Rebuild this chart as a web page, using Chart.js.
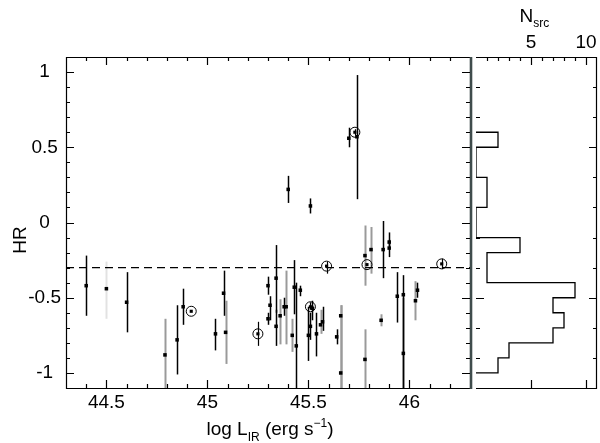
<!DOCTYPE html>
<html><head><meta charset="utf-8">
<script src="https://cdn.jsdelivr.net/npm/chart.js@4.4.1/dist/chart.umd.min.js"></script>
<style>
html,body{margin:0;padding:0;background:#fff;}
#wrap{position:relative;width:600px;height:443px;overflow:hidden;background:#fff;}
#main{position:absolute;left:0;top:0;}
#hist{position:absolute;left:470px;top:0;}
</style></head><body>
<div id="wrap">
<canvas id="main" width="476" height="443"></canvas>
<canvas id="hist" width="130" height="443"></canvas>
</div>
<script>
// ---------------- DATA ----------------
// Sources with black error bars
const blackLogL = [44.40,44.60,44.85,44.88,45.04,45.08,45.30,45.31,45.30,45.34,45.34,45.38,45.43,45.44,45.46,45.40,45.51,45.50,45.51,45.52,45.54,45.57,45.64,45.70,45.74,45.87,45.90,45.90,45.94,45.97,45.97,46.04];
const blackHR   = [-0.42,-0.53,-0.78,-0.56,-0.74,-0.47,-0.42,-0.55,-0.64,-0.37,-0.69,-0.56,-0.43,-0.82,-0.45,0.22,0.11,-0.75,-0.69,-0.57,-0.74,-0.66,-0.76,0.56,0.57,-0.18,-0.17,-0.13,-0.49,-0.48,-0.87,-0.45];
const blackLo   = [-0.62,-0.73,-1.01,-0.68,-0.85,-0.62,-0.48,-0.65,-0.68,-0.60,-0.82,-0.62,-0.61,-1.20,-0.49,0.13,0.06,-0.92,-0.78,-0.65,-0.89,-0.72,-0.81,0.50,0.155,-0.37,-0.23,-0.16,-0.665,-1.20,-1.20,-0.50];
const blackHi   = [-0.22,-0.33,-0.55,-0.44,-0.64,-0.32,-0.36,-0.49,-0.60,-0.15,-0.58,-0.50,-0.25,-0.40,-0.42,0.31,0.16,-0.56,-0.60,-0.52,-0.60,-0.56,-0.71,0.63,0.98,0.01,-0.115,-0.066,-0.33,-0.35,-0.50,-0.40];
// Sources with grey error bars
const greyLogL = [44.50,44.79,45.09,45.36,45.39,45.42,45.56,45.66,45.66,45.78,45.78,45.81,45.86,46.03];
const greyHR   = [-0.44,-0.88,-0.73,-0.62,-0.56,-0.75,-0.68,-0.62,-1.00,-0.22,-0.91,-0.18,-0.65,-0.52];
const greyLo   = [-0.64,-1.20,-0.94,-0.81,-0.81,-0.86,-0.74,-1.20,-1.20,-0.42,-1.20,-0.34,-0.69,-0.65];
const greyHi   = [-0.26,-0.64,-0.52,-0.51,-0.32,-0.64,-0.58,-0.55,-0.55,-0.02,-0.71,-0.03,-0.61,-0.39];
const greyFaint = [true,false,false,false,false,false,false,false,false,false,false,false,false,false];
// Circled sources
const circLogL = [44.92,45.25,45.51,45.59,45.73,45.79,46.16];
const circHR   = [-0.59,-0.74,-0.56,-0.29,0.60,-0.28,-0.275];
const circLo   = [null,-0.82,-0.58,-0.34,0.58,null,-0.31];
const circHi   = [null,-0.66,-0.53,-0.26,0.62,null,-0.24];
// Dividing HR value
const hrCut = -0.3;
// Histogram of HR (bin edges and counts)
const histEdges  = [-1.0,-0.9,-0.8,-0.7,-0.6,-0.5,-0.4,-0.3,-0.2,-0.1,0.0,0.1,0.2,0.3,0.4,0.5,0.6];
const histCounts = [2,3,7,8,7,9,1,1,4,0,0,1,1,0,0,2];
// Axis ranges / ticks
const xRange = [44.3, 46.3];
const yRange = [-1.1, 1.1];
const nRange = [0, 11];
const nLabels = [5, 10];

// ---------------- HELPERS ----------------
const FONT = "'Liberation Sans', Arial, Helvetica, sans-serif";
Chart.defaults.font.family = FONT;
Chart.defaults.font.size = 19;
Chart.defaults.color = '#000';
function isHalf(v){ return Math.abs(v*2 - Math.round(v*2)) < 1e-6; }
function fmt(v){ const r = Math.round(v*10)/10; return (r === 0 ? 0 : r).toString(); }
function pts(xs, ys){ return xs.map((x,i)=>({x:x, y:ys[i]})); }

function drawRich(ctx, parts, cx, baseline){
  let w = 0;
  parts.forEach(p=>{ ctx.font = p.size + 'px ' + FONT; p.w = ctx.measureText(p.t).width; w += p.w; });
  let x = cx - w/2;
  ctx.textAlign = 'left'; ctx.textBaseline = 'alphabetic'; ctx.fillStyle = '#000';
  parts.forEach(p=>{ ctx.font = p.size + 'px ' + FONT; ctx.fillText(p.t, x, baseline + p.dy); x += p.w; });
}

const errorBars = {
  id: 'errorBars',
  beforeDatasetsDraw(chart){
    const {ctx, chartArea:a, scales:{x, y}} = chart;
    ctx.save();
    ctx.beginPath(); ctx.rect(a.left, a.top, a.right - a.left, a.bottom - a.top); ctx.clip();
    chart.data.datasets.forEach(ds=>{
      if (!ds.errLo) return;
      ds.data.forEach((p, i)=>{
        if (ds.errLo[i] == null) return;
        const px = Math.round(x.getPixelForValue(p.x)) + 0.5;
        ctx.strokeStyle = (ds.faint && ds.faint[i]) ? '#e2e2e2' : ds.barColor;
        ctx.lineWidth = ds.barWidth;
        ctx.beginPath();
        ctx.moveTo(px, y.getPixelForValue(ds.errLo[i]));
        ctx.lineTo(px, y.getPixelForValue(ds.errHi[i]));
        ctx.stroke();
      });
    });
    ctx.restore();
  }
};

const mainFrame = {
  id: 'mainFrame',
  afterDraw(chart){
    const {ctx, chartArea:a, scales:{x, y}} = chart;
    ctx.save();
    ctx.strokeStyle = '#000'; ctx.lineWidth = 1.2;
    // frame
    ctx.beginPath();
    ctx.moveTo(a.right, a.top + 0.5); ctx.lineTo(a.left + 0.5, a.top + 0.5);
    ctx.lineTo(a.left + 0.5, a.bottom + 0.5); ctx.lineTo(a.right, a.bottom + 0.5);
    ctx.stroke();
    ctx.strokeStyle = '#3f4c4c'; ctx.lineWidth = 2.6;
    ctx.beginPath(); ctx.moveTo(a.right + 1, a.top); ctx.lineTo(a.right + 1, a.bottom + 1); ctx.stroke();
    ctx.strokeStyle = '#000'; ctx.lineWidth = 1.2;
    ctx.beginPath();
    x.ticks.forEach(t=>{
      const px = Math.round(x.getPixelForValue(t.value)) + 0.5;
      if (px <= a.left + 1 || px >= a.right - 1) return;
      const len = isHalf(t.value) ? 8 : 4;
      ctx.moveTo(px, a.bottom); ctx.lineTo(px, a.bottom - len);
      ctx.moveTo(px, a.top); ctx.lineTo(px, a.top + len);
    });
    y.ticks.forEach(t=>{
      const py = Math.round(y.getPixelForValue(t.value)) + 0.5;
      if (py <= a.top + 1 || py >= a.bottom - 1) return;
      const len = isHalf(t.value) ? 8 : 4;
      ctx.moveTo(a.left, py); ctx.lineTo(a.left + len, py);
      ctx.moveTo(a.right, py); ctx.lineTo(a.right - len, py);
    });
    ctx.stroke();
    // axis titles
    ctx.save();
    ctx.translate(21, 240); ctx.rotate(-Math.PI/2);
    ctx.font = '19px ' + FONT; ctx.textAlign = 'center'; ctx.textBaseline = 'middle'; ctx.fillStyle = '#000';
    ctx.fillText('HR', 0, 0);
    ctx.restore();
    drawRich(ctx, [
      {t:'log L', size:19, dy:0}, {t:'IR', size:12, dy:6},
      {t:' (erg s', size:19, dy:0}, {t:'\u22121', size:12, dy:-8}, {t:')', size:19, dy:0}
    ], 270, 435);
    ctx.restore();
  }
};

const histFrame = {
  id: 'histFrame',
  afterDraw(chart){
    const {ctx, chartArea:a, scales:{x, y}} = chart;
    ctx.save();
    ctx.strokeStyle = '#000'; ctx.lineWidth = 1.2;
    ctx.beginPath();
    ctx.moveTo(a.left, a.top + 0.5); ctx.lineTo(a.right - 0.5, a.top + 0.5);
    ctx.lineTo(a.right - 0.5, a.bottom + 0.5); ctx.lineTo(a.left, a.bottom + 0.5);
    ctx.stroke();
    ctx.beginPath();
    for (let n = nRange[0] + 1; n < nRange[1]; n++){
      const px = Math.round(x.getPixelForValue(n)) + 0.5;
      const major = nLabels.includes(n);
      ctx.moveTo(px, a.top); ctx.lineTo(px, a.top + (major ? 8 : 4));
      if (major){ ctx.moveTo(px, a.bottom); ctx.lineTo(px, a.bottom - 8); }
    }
    y.ticks.forEach(t=>{
      const py = Math.round(y.getPixelForValue(t.value)) + 0.5;
      if (py <= a.top + 1 || py >= a.bottom - 1) return;
      const len = isHalf(t.value) ? 8 : 4;
      ctx.moveTo(a.left, py); ctx.lineTo(a.left + len, py);
      ctx.moveTo(a.right, py); ctx.lineTo(a.right - len, py);
    });
    ctx.stroke();
    drawRich(ctx, [{t:'N', size:19, dy:0}, {t:'src', size:12, dy:5}], x.getPixelForValue(5.3), 22);
    ctx.restore();
  }
};

// ---------------- MAIN CHART ----------------
new Chart(document.getElementById('main'), {
  type: 'scatter',
  data: {
    datasets: [
      {type:'line', data:[{x:xRange[0], y:hrCut}, {x:xRange[1], y:hrCut}], borderColor:'#000', borderWidth:1.2, borderDash:[8,5], pointRadius:0, fill:false},
      {data: pts(greyLogL, greyHR), errLo: greyLo, errHi: greyHi, faint: greyFaint, barColor:'#9a9a9a', barWidth:2,
       pointStyle:'rect', pointRadius:2.5, pointBorderWidth:0, backgroundColor:'#000'},
      {data: pts(blackLogL, blackHR), errLo: blackLo, errHi: blackHi, barColor:'#000', barWidth:1.5,
       pointStyle:'rect', pointRadius:2.5, pointBorderWidth:0, backgroundColor:'#000'},
      {data: pts(circLogL, circHR), errLo: circLo, errHi: circHi, barColor:'#000', barWidth:1.2,
       pointStyle:'circle', pointRadius:5, pointBorderWidth:1, borderColor:'#000', backgroundColor:'rgba(0,0,0,0)'},
      {data: pts(circLogL, circHR), pointStyle:'rect', pointRadius:2.2, pointBorderWidth:0, backgroundColor:'#000'}
    ]
  },
  options: {
    responsive:false, animation:false, devicePixelRatio:1,
    layout:{padding:{top:57, right:2, left:0, bottom:0}},
    plugins:{legend:{display:false}, tooltip:{enabled:false}},
    scales:{
      x:{type:'linear', min:xRange[0], max:xRange[1],
         grid:{display:false, drawTicks:false}, border:{display:false},
         ticks:{stepSize:0.1, autoSkip:false, maxRotation:0, padding:3,
                callback:v=> isHalf(v) ? fmt(v) : ''},
         afterFit:s=>{ s.height = 55; }},
      y:{type:'linear', min:yRange[0], max:yRange[1],
         grid:{display:false, drawTicks:false}, border:{display:false},
         ticks:{stepSize:0.1, autoSkip:false, crossAlign:'center', padding:5,
                callback:v=> isHalf(v) ? fmt(v) : ''},
         afterFit:s=>{ s.width = 66; }}
    }
  },
  plugins:[errorBars, mainFrame]
});

// ---------------- HISTOGRAM ----------------
function stepOutline(){
  const out = [{x:0, y:histEdges[0]}];
  histCounts.forEach((c, i)=>{ out.push({x:c, y:histEdges[i]}); out.push({x:c, y:histEdges[i+1]}); });
  out.push({x:0, y:histEdges[histEdges.length-1]});
  return out;
}
new Chart(document.getElementById('hist'), {
  type: 'scatter',
  data: { datasets: [ {data: stepOutline(), showLine:true, borderColor:'#000', borderWidth:1.3, pointRadius:0, tension:0, fill:false} ] },
  options: {
    responsive:false, animation:false, devicePixelRatio:1,
    layout:{padding:{top:0, right:1, left:6, bottom:55}},
    plugins:{legend:{display:false}, tooltip:{enabled:false}},
    scales:{
      x:{type:'linear', position:'top', min:nRange[0], max:nRange[1],
         grid:{display:false, drawTicks:false}, border:{display:false},
         ticks:{stepSize:1, autoSkip:false, maxRotation:0, padding:3,
                callback:v=> nLabels.includes(v) ? String(v) : ''},
         afterFit:s=>{ s.height = 57; }},
      y:{type:'linear', display:false, min:yRange[0], max:yRange[1], ticks:{stepSize:0.1}}
    }
  },
  plugins:[histFrame]
});
</script>
</body></html>
